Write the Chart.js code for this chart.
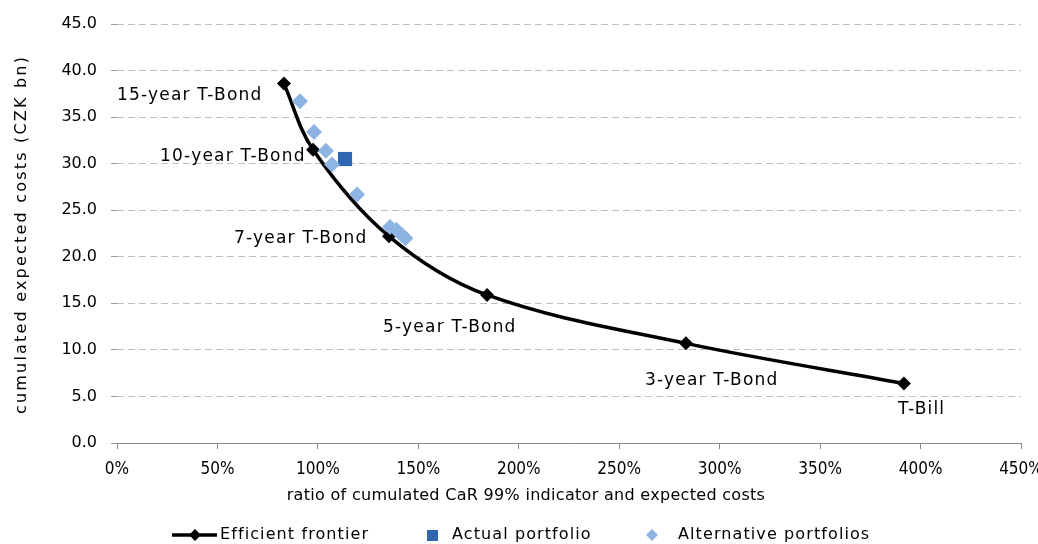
<!DOCTYPE html>
<html lang="en">
<head>
    <meta charset="UTF-8">
    <title>Efficient frontier</title>
    <script src="https://cdn.jsdelivr.net/npm/chart.js"></script>
    <style>
        body { margin: 0; background: #fff; overflow: hidden; }
        #wrap { width: 1038px; height: 544px; position: relative; }
    </style>
</head>
<body>
    <div id="wrap"><canvas id="chart"></canvas></div>
    <script>
        // efficient frontier (x = CaR ratio in %, y = costs CZK bn)
        var frontierNames = ['15-year T-Bond', '10-year T-Bond', '7-year T-Bond', '5-year T-Bond', '3-year T-Bond', 'T-Bill'];
        var frontierX = [83.1, 97.6, 135.4, 184.2, 283.2, 391.7];
        var frontierY = [38.6, 31.5, 22.2, 15.9, 10.7, 6.4];

        var actualX = [113.5];
        var actualY = [30.5];

        var altX = [91.1, 98.1, 104.0, 107.0, 119.5, 135.9, 139.0, 141.5, 143.6];
        var altY = [36.7, 33.4, 31.4, 29.9, 26.7, 23.2, 22.9, 22.4, 22.0];

        var legendNames = ['Efficient frontier', 'Actual portfolio', 'Alternative portfolios'];
        var xTitle = 'ratio of cumulated CaR 99% indicator and expected costs';
        var yTitle = 'cumulated expected costs (CZK bn)';

        function zip(xs, ys) {
            return xs.map(function (x, i) { return { x: x, y: ys[i] }; });
        }

        // label offsets (px) from the frontier point to the left edge of the text
        var labelOffsets = [
            [-167, 12],
            [-153, 7],
            [-155, 2],
            [-104, 33],
            [-41, 37],
            [-6, 26]
        ];

        var pointLabels = {
            id: 'pointLabels',
            afterDatasetsDraw: function (chart) {
                var ctx = chart.ctx;
                var meta = chart.getDatasetMeta(0);
                ctx.save();
                ctx.font = '17px "DejaVu Sans"';
                ctx.letterSpacing = '1.2px';
                ctx.fillStyle = '#000';
                ctx.textBaseline = 'middle';
                ctx.textAlign = 'left';
                meta.data.forEach(function (pt, i) {
                    var o = labelOffsets[i];
                    ctx.fillText(frontierNames[i], pt.x + o[0], pt.y + o[1]);
                });
                ctx.restore();
            }
        };

        // axis titles and legend drawn by hand (spaced-out lettering)
        var extras = {
            id: 'extras',
            afterDraw: function (chart) {
                var ctx = chart.ctx;
                var area = chart.chartArea;
                ctx.save();
                ctx.fillStyle = '#000';
                ctx.textBaseline = 'middle';

                // x title
                ctx.font = '16px "DejaVu Sans"';
                ctx.letterSpacing = '0.3px';
                ctx.textAlign = 'center';
                ctx.fillText(xTitle, 526, 496);

                // y title
                ctx.save();
                ctx.translate(22, (area.top + area.bottom) / 2 + 1);
                ctx.rotate(-Math.PI / 2);
                ctx.letterSpacing = '2.2px';
                ctx.fillText(yTitle, 0, 0);
                ctx.restore();

                // legend
                ctx.font = '16px "DejaVu Sans"';
                ctx.letterSpacing = '1.1px';
                ctx.textAlign = 'left';
                var y = 535;
                var x = 172;
                ctx.strokeStyle = '#000';
                ctx.lineWidth = 3.5;
                ctx.beginPath(); ctx.moveTo(x, y); ctx.lineTo(x + 45, y); ctx.stroke();
                ctx.beginPath();
                ctx.moveTo(x + 23, y - 6); ctx.lineTo(x + 29, y); ctx.lineTo(x + 23, y + 6); ctx.lineTo(x + 17, y);
                ctx.closePath(); ctx.fill();
                ctx.fillText(legendNames[0], 220, y);
                ctx.fillStyle = '#2E66B1';
                ctx.fillRect(427, y - 5, 11, 11);
                ctx.fillStyle = '#000';
                ctx.fillText(legendNames[1], 452, y);
                ctx.fillStyle = '#8DB4E2';
                ctx.beginPath();
                ctx.moveTo(652, y - 6); ctx.lineTo(658, y); ctx.lineTo(652, y + 6); ctx.lineTo(646, y);
                ctx.closePath(); ctx.fill();
                ctx.fillStyle = '#000';
                ctx.fillText(legendNames[2], 678, y);
                ctx.restore();
            }
        };

        new Chart(document.getElementById('chart'), {
            type: 'scatter',
            data: {
                datasets: [
                    {
                        label: legendNames[0],
                        data: zip(frontierX, frontierY),
                        showLine: true,
                        borderColor: '#000',
                        backgroundColor: '#000',
                        borderWidth: 3.5,
                        tension: 0.35,
                        pointStyle: 'rectRot',
                        pointRadius: 7,
                        pointBorderWidth: 0,
                        order: 2
                    },
                    {
                        label: legendNames[1],
                        data: zip(actualX, actualY),
                        backgroundColor: '#2E66B1',
                        borderColor: '#2E66B1',
                        pointStyle: 'rect',
                        pointRadius: 10,
                        pointBorderWidth: 0,
                        order: 1
                    },
                    {
                        label: legendNames[2],
                        data: zip(altX, altY),
                        backgroundColor: '#8DB4E2',
                        borderColor: '#8DB4E2',
                        pointStyle: 'rectRot',
                        pointRadius: 8,
                        pointBorderWidth: 0,
                        order: 0
                    }
                ]
            },
            options: {
                responsive: true,
                maintainAspectRatio: false,
                animation: false,
                layout: { padding: { top: 24, right: 17, bottom: 31, left: 0 } },
                plugins: {
                    legend: { display: false },
                    tooltip: { enabled: false }
                },
                scales: {
                    x: {
                        type: 'linear',
                        min: 0,
                        max: 450,
                        afterFit: function (s) { s.height = 70; s.paddingLeft = 0; s.paddingRight = 0; },
                        ticks: {
                            stepSize: 50,
                            maxRotation: 0,
                            autoSkip: false,
                            color: '#000',
                            padding: 10,
                            font: { family: '"Liberation Sans Narrow", "DejaVu Sans Condensed"', size: 17 },
                            callback: function (v) { return v + '%'; }
                        },
                        grid: { drawOnChartArea: false, tickLength: 6, color: '#888' },
                        border: { color: '#888', width: 1 }
                    },
                    y: {
                        min: 0,
                        max: 45,
                        afterFit: function (s) { s.width = 117; },
                        ticks: {
                            stepSize: 5,
                            color: '#000',
                            padding: 14,
                            font: { family: 'DejaVu Sans', size: 16 },
                            callback: function (v) { return v.toFixed(1); }
                        },
                        grid: {
                            color: '#bfbfbf',
                            tickLength: 6,
                            tickColor: '#999',
                            tickBorderDash: [0, 0]
                        },
                        border: { display: false, dash: [7, 4] }
                    }
                }
            },
            plugins: [pointLabels, extras]
        });
    </script>
</body>
</html>
